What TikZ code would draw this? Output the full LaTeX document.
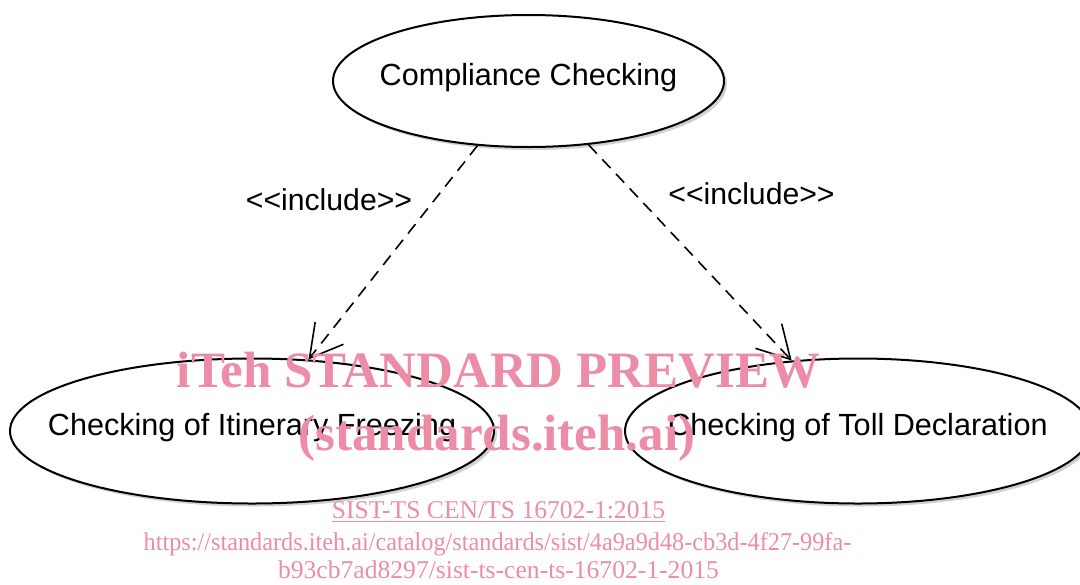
\documentclass[tikz,border=0pt]{standalone}
\usepackage{fontspec}
\setmainfont{Liberation Sans}
\newfontfamily\umlfont{Liberation Sans}
\newfontfamily\wmfont{Liberation Serif}
\usepackage{graphicx}
\usepackage{tikz}
\usetikzlibrary{arrows.meta,shapes.geometric,shadows}
\usepackage{xcolor}
\definecolor{wmpink}{RGB}{236,140,166}

\newcommand{\incl}{<\kern0pt<include>\kern0pt>}

\tikzset{
	usecase/.style={draw, ellipse, line width=1pt, fill=white, inner xsep=-60pt, inner ysep=0pt,
		text height=0.73em, text depth=0.33em,
		font=\umlfont\fontsize{15.3}{18}\selectfont,
		drop shadow={fill=black, opacity=0.18, shadow xshift=1.5pt, shadow yshift=-1.5pt}},
	includes/.style={line width=0.8pt, dash pattern=on 6pt off 4pt,
		-{Straight Barb[length=16pt, width=18pt, line width=0.8pt]}},
	stereo/.style={font=\umlfont\fontsize{15.1}{18}\selectfont, anchor=base},
	wmbig/.style={text=wmpink, anchor=base, font=\wmfont\bfseries\fontsize{25.5}{28}\selectfont},
	wmsmall/.style={text=wmpink, anchor=base, font=\wmfont\fontsize{12.8}{14}\selectfont}
}

\begin{document}
\begin{tikzpicture}[x=0.5pt, y=-0.5pt]
	\useasboundingbox (0, 0) rectangle (1080, 584);
	% use cases
	\node (compliance) [usecase, minimum width=195.5pt, minimum height=66pt] at (528.5, 81) {Compliance Checking};
	\node (itinerary) [usecase, minimum width=242pt, minimum height=72.5pt] at (252, 431) {Checking of Itinerary Freezing};
	\node (toll) [usecase, minimum width=233pt, minimum height=72.5pt] at (858, 431) {Checking of Toll Declaration};
	% include relations
	\draw[includes] (compliance) -- (itinerary);
	\draw[includes] (compliance) -- (toll);
	\node (inclleft) [stereo] at (329, 210.5) {\incl};
	\node (inclright) [stereo] at (751.5, 204) {\incl};
	% watermark
	\node (wmtitle) [wmbig] at (498.5, 387) {iTeh STANDARD PREVIEW};
	\node (wmsite) [wmbig] at (497, 450) {(standards.iteh.ai)};
	\node (wmcode) [wmsmall] at (498.5, 518) {\underline{SIST-TS CEN/TS 16702-1:2015}};
	\node (wmurl) [wmsmall] at (497.5, 550) {\scalebox{0.948}[1]{https://standards.iteh.ai/catalog/standards/sist/4a9a9d48-cb3d-4f27-99fa-}};
	\node (wmpath) [wmsmall] at (498.5, 578) {b93cb7ad8297/sist-ts-cen-ts-16702-1-2015};
\end{tikzpicture}
\end{document}
